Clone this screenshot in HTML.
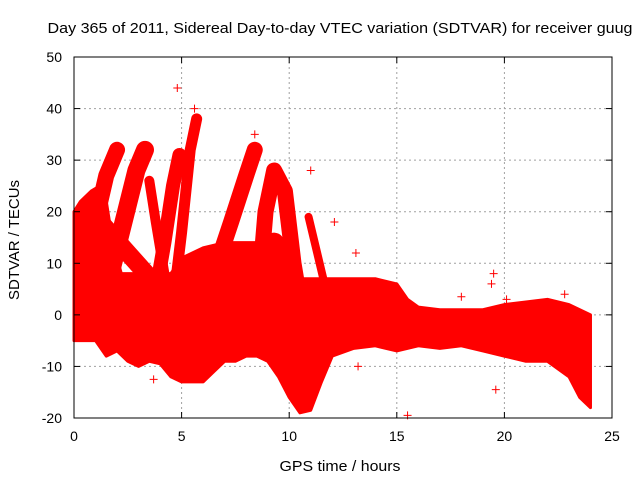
<!DOCTYPE html>
<html><head><meta charset="utf-8"><style>
body{margin:0;background:#fff;width:640px;height:480px;overflow:hidden}
text{font-family:"Liberation Sans",sans-serif;font-size:14px;fill:#000}
</style></head><body>
<svg id="chart" width="640" height="480">
<text x="340" y="33" text-anchor="middle" textLength="585" lengthAdjust="spacingAndGlyphs" style="font-size:15px">Day 365 of 2011, Sidereal Day-to-day VTEC variation (SDTVAR) for receiver guug</text>
<text transform="translate(19,240) rotate(-90)" text-anchor="middle" textLength="120" lengthAdjust="spacingAndGlyphs" style="font-size:15px">SDTVAR / TECUs</text>
<text x="340" y="471" text-anchor="middle" textLength="121" lengthAdjust="spacingAndGlyphs" style="font-size:15px">GPS time / hours</text>
<g id="grid"></g><g id="marks"></g><g id="axes"></g>
</svg>
<script>
const xTicks=[0,5,10,15,20,25];
const yTicks=[-20,-10,0,10,20,30,40,50];
const bandHours=[0,0.3,0.8,1.2,1.5,1.8,2.2,2.8,3.5,4,4.5,5,5.5,6,7,8,8.8,9.5,10,10.5,11,12,13,14,15,15.5,16,17,18,19,20,21,22,23,24];
const bandUpper=[20,22,24,25,22,14,8,8,7,8,8,11,12,13,14,14,14,12,8,7,7,7,7,7,6,3,1.5,1,1,1,2,2.5,3,2,0];
const lowHours=[0,1,1.5,2,2.5,3,3.5,4,4.5,5,5.5,6,6.5,7,7.5,8,8.5,9,9.5,10,10.5,11,11.5,12,13,14,15,16,17,18,19,20,21,22,23,23.5,24];
const bandLower=[-5,-5,-8,-7,-9,-10,-9,-9.5,-12,-13,-13,-13,-11,-9,-9,-8,-8,-9,-12,-16,-19,-18.5,-13,-8,-6.5,-6,-7,-6,-6.5,-6,-7,-8,-9,-9,-12,-16,-18];
const arcHours=[[1.0,1.5,2.0],[1.7,2.3,2.9,3.3],[3.5,3.8,4.2,4.5],[3.7,4.2,4.6,4.9],[4.6,5,5.4,5.7],[6.5,7.3,8,8.4],[8.6,8.9,9.3,9.8,10.2,10.6],[10.9,11.3,11.7],[0.8,2.5,4],[8.8,9.3,10]];
const arcValues=[[18,27,32],[8,18,28,32],[26,18,8,2],[2,14,25,31],[2,16,32,38],[8,18,27,32],[5,20,28,24,10,0],[19,12,5],[20,12,5],[10,14,8]];
const arcWidths=[16,18,10,14,11,16,16,8,18,20];
const outHours=[4.8,5.6,8.4,11,12.1,13.1,13.2,3.7,15.5,19.5,19.6,20.1,21,18,22.8,2,19.4];
const outValues=[44,40,35,28,18,12,-10,-12.5,-19.5,8,-14.5,3,1,3.5,4,10.5,6];
const L=74,R=612,T=57,B=418,NS="http://www.w3.org/2000/svg";
const sx=v=>L+(v-0)/(25-0)*(R-L), sy=v=>B-(v+20)/70*(B-T);
function mk(t,a,p){const e=document.createElementNS(NS,t);for(const k in a)e.setAttribute(k,a[k]);p.appendChild(e);return e;}
const grid=document.getElementById('grid'),marks=document.getElementById('marks'),axes=document.getElementById('axes');
xTicks.forEach(v=>{if(v>0&&v<25){const g=mk('line',{x1:sx(v),x2:sx(v),y1:T,y2:B,stroke:'#a0a0a0','stroke-dasharray':'2,3'},grid);

}
const t=mk('text',{x:sx(v),y:B+23,'text-anchor':'middle'},axes);t.textContent=v;


mk('line',{x1:sx(v),x2:sx(v),y1:B,y2:B-6,stroke:'#000'},axes);mk('line',{x1:sx(v),x2:sx(v),y1:T,y2:T+6,stroke:'#000'},axes);});
yTicks.forEach(v=>{if(v>-20&&v<50){const g=mk('line',{x1:L,x2:R,y1:sy(v),y2:sy(v),stroke:'#a0a0a0','stroke-dasharray':'2,3'},grid);

}
const t=mk('text',{x:L-12,y:sy(v)+5,'text-anchor':'end'},axes);t.textContent=v;


mk('line',{x1:L,x2:L+6,y1:sy(v),y2:sy(v),stroke:'#000'},axes);mk('line',{x1:R,x2:R-6,y1:sy(v),y2:sy(v),stroke:'#000'},axes);});
const fr=mk('rect',{x:L,y:T,width:R-L,height:B-T,fill:'none',stroke:'#000'},axes);


let pts=bandHours.map((h,i)=>sx(h)+','+sy(bandUpper[i]));
for(let i=lowHours.length-1;i>=0;i--)pts.push(sx(lowHours[i])+','+sy(bandLower[i]));
const band=mk('polygon',{points:pts.join(' '),fill:'#ff0000',stroke:'#ff0000','stroke-width':3,'stroke-linejoin':'round'},marks);


arcHours.forEach((hs,j)=>{const p=mk('polyline',{points:hs.map((h,i)=>sx(h)+','+sy(arcValues[j][i])).join(' '),fill:'none',stroke:'#ff0000','stroke-width':arcWidths[j],'stroke-linejoin':'round','stroke-linecap':'round'},marks);

});
outHours.forEach((h,i)=>{const x=sx(h),y=sy(outValues[i]);const p=mk('path',{d:`M${x-4},${y}H${x+4}M${x},${y-4}V${y+4}`,stroke:'#ff0000','stroke-width':1},marks);

});
</script>
</body></html>
